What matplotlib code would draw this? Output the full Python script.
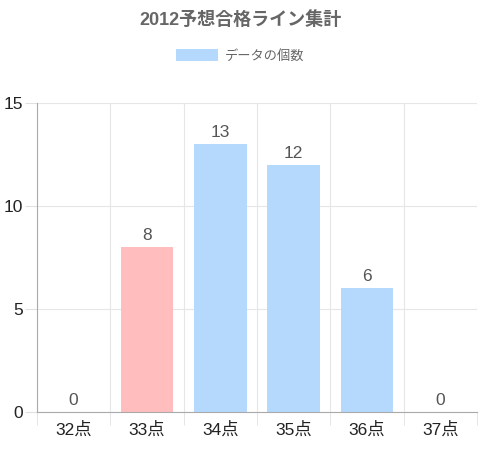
import matplotlib
matplotlib.use("Agg")
import matplotlib.pyplot as plt
from matplotlib.patches import Patch

plt.rcParams['font.family'] = ['Liberation Sans', 'Noto Sans CJK JP', 'DejaVu Sans']

categories = ["32点", "33点", "34点", "35点", "36点", "37点"]
counts = [0, 8, 13, 12, 6, 0]
bar_colors = ["#b5d9fd", "#ffbdbe", "#b5d9fd", "#b5d9fd", "#b5d9fd", "#b5d9fd"]
title = "2012予想合格ライン集計"
legend_label = "データの個数"
y_ticks = [0, 5, 10, 15]

fig = plt.figure(figsize=(4.8, 4.5), dpi=100)
ax = fig.add_axes([37 / 480, 1 - 412 / 450, 440 / 480, 309 / 450])

x = list(range(len(categories)))
ax.bar(x, counts, width=0.72, color=bar_colors, zorder=2)
for xi, v in zip(x, counts):
    ax.text(xi, v + 0.2, str(v), ha="center", va="bottom", fontsize=12.5, color="#555555")

ax.set_xlim(-0.5, len(categories) - 0.5)
ax.set_ylim(0, 15)
ax.set_yticks(y_ticks)
ax.set_xticks(x)
ax.set_xticklabels(categories)
ax.set_xticks([i - 0.5 for i in range(len(categories) + 1)], minor=True)

ax.grid(axis="y", color="#e6e6e6", linewidth=0.8, zorder=0)
ax.grid(axis="x", which="minor", color="#e6e6e6", linewidth=0.8, zorder=0)
ax.tick_params(axis="x", which="major", length=0, pad=7, labelsize=12.5, colors="#222222")
ax.tick_params(axis="x", which="minor", length=9, color="#e0e0e0")
ax.tick_params(axis="y", length=9, color="#e0e0e0", labelsize=12.5, labelcolor="#222222", pad=1)

for s in ["top", "right"]:
    ax.spines[s].set_visible(False)
ax.spines["left"].set_color("#aaaaaa")
ax.spines["bottom"].set_color("#aaaaaa")

fig.text(0.5, 1 - 20 / 450, title, ha="center", va="center", fontsize=13,
         fontweight="bold", color="#666666")
handle = Patch(facecolor="#b5d9fd", edgecolor="none")
fig.legend([handle], [legend_label], loc="center", bbox_to_anchor=(0.5, 1 - 56 / 450),
           frameon=False, fontsize=9.5, labelcolor="#666666",
           handlelength=3.2, handleheight=1.0, handletextpad=0.5)

fig.savefig("out.png", dpi=100)
